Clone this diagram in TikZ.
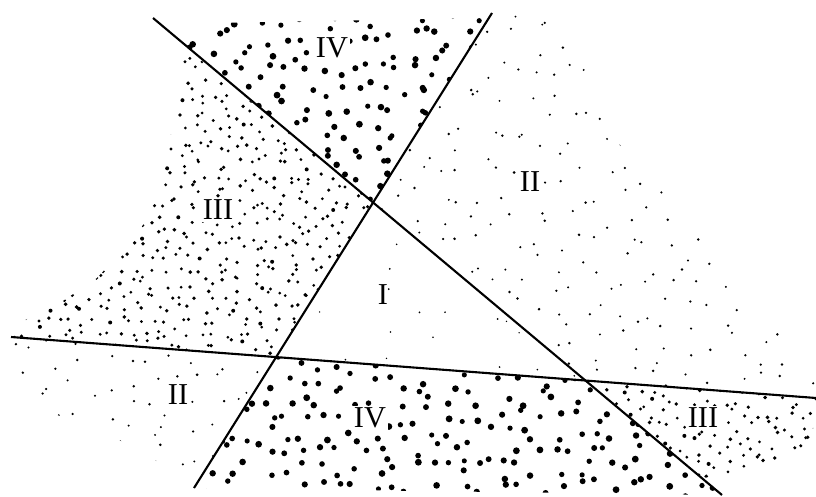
\documentclass[tikz,border=0pt]{standalone}
\usepackage{fontspec}
\setmainfont{Liberation Serif}
\tikzset{
  every picture/.style={line width=0.5pt},
  ln/.style={line width=1.2pt},
  lbl/.style={font=\LARGE,inner sep=1pt},
}
% jittered grid of dots: x list, y list, step, radius (pt)
\newcommand{\stip}[4]{%
  \foreach \gx in {#1}{\foreach \gy in {#2}{%
    \pgfmathsetmacro\px{\gx+(rnd-0.5)*#3}%
    \pgfmathsetmacro\py{\gy+(rnd-0.5)*#3}%
    \pgfmathsetmacro\pr{#4*(0.85+0.3*rnd)}%
    \fill (\px,\py) circle[radius=\pr pt];}}}

\begin{document}
\begin{tikzpicture}[x=0.02cm,y=-0.02cm]
\pgfmathsetseed{42}
\useasboundingbox (0,0) rectangle (816,497);
\coordinate (a1) at (153,18); \coordinate (a2) at (722,495);
\coordinate (b1) at (492,13); \coordinate (b2) at (194,488);
\coordinate (c1) at (11,337); \coordinate (c2) at (816,398);
\coordinate (p) at (intersection of a1--a2 and b1--b2);
\coordinate (r) at (intersection of b1--b2 and c1--c2);
\coordinate (q) at (intersection of a1--a2 and c1--c2);
% region IV (large dots)
\begin{scope} \clip (p)--(160,24)--(489,18)--cycle; \stip{162,180,...,496}{20,38,...,208}{18}{1.7} \end{scope}
\begin{scope} \clip (r)--(q)--(a2)--(b2)--cycle; \stip{196,214,...,724}{362,380,...,496}{18}{1.7} \end{scope}
% region III (small dots)
\begin{scope} \clip (p)--(r)--(c1)--(15,325)--(60,303)--(97,278)--(123,250)--(147,220)--(160,185)--(170,140)--(178,95)--(185,47)--cycle;
  \stip{12,24,...,375}{44,56,...,360}{12}{1.0} \end{scope}
\begin{scope} \clip (q)--(c2)--(812,440)--(780,462)--(740,475)--(700,478)--cycle;
  \stip{585,597,...,816}{378,390,...,482}{12}{1.0} \end{scope}
% region II (sparse specks)
\begin{scope} \clip (p)--(b1)--(560,10)--(620,145)--(660,190)--(700,225)--(735,280)--(775,330)--(816,345)--(c2)--(q)--cycle;
  \stip{372,395,...,816}{10,33,...,400}{23}{0.7} \end{scope}
\begin{scope} \clip (r)--(c1)--(15,365)--(40,408)--(115,438)--(150,455)--(175,478)--(200,478)--cycle;
  \stip{10,33,...,280}{336,359,...,480}{23}{0.7} \end{scope}
% region I (almost empty)
\begin{scope} \clip (p)--(r)--(q)--cycle; \stip{290,330,...,570}{220,260,...,380}{40}{0.5} \end{scope}
% lines
\draw[ln] (a1)--(a2); \draw[ln] (b1)--(b2); \draw[ln] (c1)--(c2);
% labels
\node[lbl] (t1) at (383,295) {I};
\node[lbl,fill=white] (t2a) at (530,182) {II};
\node[lbl,fill=white] (t2b) at (178,395) {II};
\node[lbl,fill=white] (t3a) at (218,210) {III};
\node[lbl,fill=white] (t3b) at (703,418) {III};
\node[lbl,fill=white] (t4a) at (332,48) {IV};
\node[lbl,fill=white] (t4b) at (370,418) {IV};
\end{tikzpicture}
\end{document}
